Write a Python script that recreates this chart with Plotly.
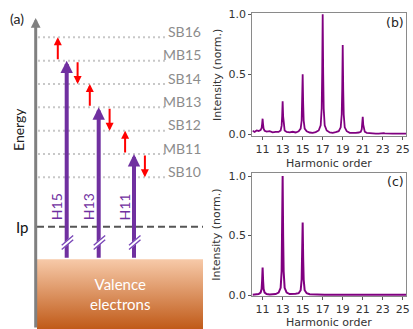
import plotly.graph_objects as go

# ---------------- data: spectra (b) and (c) ----------------
harmonic_order = [
    10.0, 10.2, 10.4,
    10.6, 10.8, 10.9, 10.95, 11.0, 11.05, 11.1, 11.2, 11.4, 11.7, 12.0, 12.3,
    12.6, 12.8, 12.9, 12.95, 13.0, 13.05, 13.1, 13.2, 13.4, 13.7, 14.0, 14.3,
    14.6, 14.8, 14.9, 14.95, 15.0, 15.05, 15.1, 15.2, 15.4, 15.7, 16.0, 16.3,
    16.6, 16.8, 16.9, 16.95, 17.0, 17.05, 17.1, 17.2, 17.4, 17.7, 18.0, 18.3,
    18.6, 18.8, 18.9, 18.95, 19.0, 19.05, 19.1, 19.2, 19.4, 19.7, 20.0, 20.3,
    20.6, 20.8, 20.9, 20.95, 21.0, 21.05, 21.1, 21.2, 21.4, 21.7, 22.0, 22.3,
    22.6, 22.8, 22.9, 22.95, 23.0, 23.05, 23.1, 23.2, 23.4, 23.7, 24.0, 24.3,
    24.7, 25.0, 25.35,
]
intensity_b = [
    0.030, 0.020, 0.032,
    0.028, 0.036, 0.052, 0.085, 0.130, 0.080, 0.046, 0.030, 0.022, 0.026, 0.016, 0.021,
    0.020, 0.032, 0.072, 0.150, 0.275, 0.150, 0.072, 0.032, 0.020, 0.016, 0.021, 0.015,
    0.025, 0.048, 0.115, 0.260, 0.500, 0.260, 0.115, 0.048, 0.025, 0.015, 0.012, 0.018,
    0.032, 0.075, 0.215, 0.510, 1.000, 0.510, 0.215, 0.075, 0.032, 0.015, 0.012, 0.018,
    0.026, 0.058, 0.165, 0.380, 0.745, 0.380, 0.165, 0.058, 0.026, 0.012, 0.010, 0.012,
    0.015, 0.021, 0.042, 0.080, 0.145, 0.080, 0.042, 0.021, 0.012, 0.008, 0.006, 0.006,
    0.006, 0.008, 0.010, 0.012, 0.014, 0.012, 0.010, 0.008, 0.006, 0.005, 0.005, 0.005,
    0.005, 0.005, 0.005,
]
intensity_c = [
    0.003, 0.003, 0.004,
    0.008, 0.020, 0.050, 0.120, 0.230, 0.120, 0.050, 0.020, 0.008, 0.005, 0.005, 0.008,
    0.020, 0.060, 0.200, 0.500, 1.000, 0.500, 0.200, 0.060, 0.020, 0.008, 0.006, 0.010,
    0.015, 0.040, 0.130, 0.310, 0.610, 0.310, 0.130, 0.040, 0.015, 0.006, 0.004, 0.003,
    0.002, 0.002, 0.002, 0.002, 0.002, 0.002, 0.002, 0.002, 0.002, 0.002, 0.002, 0.002,
    0.002, 0.002, 0.002, 0.002, 0.002, 0.002, 0.002, 0.002, 0.002, 0.002, 0.002, 0.002,
    0.002, 0.002, 0.002, 0.002, 0.002, 0.002, 0.002, 0.002, 0.002, 0.002, 0.002, 0.002,
    0.002, 0.002, 0.002, 0.002, 0.002, 0.002, 0.002, 0.002, 0.002, 0.002, 0.002, 0.002,
    0.002, 0.002, 0.002,
]
x_tick_values = [11, 13, 15, 17, 19, 21, 23, 25]
y_tick_values = [0.0, 0.5, 1.0]
y_tick_labels = ["0.0", "0.5", "1.0"]

# ---------------- data: energy-level schematic (a) ----------------
level_names = ["SB10", "MB11", "SB12", "MB13", "SB14", "MB15", "SB16"]
level_energy = [10, 11, 12, 13, 14, 15, 16]
harmonic_names = ["H15", "H13", "H11"]
harmonic_energy = [15, 13, 11]
ip_energy = 7.88
valence_top_energy = 6.49
valence_bottom_energy = 3.5
break_energy = 7.18

# ---------------- styles ----------------
PURPLE_LINE = "#800080"
PURPLE = "#7030A0"
RED = "#FF0000"
GRAY = "#8C8C8C"
PX = 1 / 23.33          # one pixel in energy units of panel (a)
harm_x = [66.7, 98.7, 134.0]
LEVEL_X0, LEVEL_X1 = 38, 166
BOX_X0, BOX_X1 = 37, 203
AXIS_X = 35.7
W, H = 413, 329

fig = go.Figure()

fig.add_trace(go.Scatter(x=harmonic_order, y=intensity_b, mode="lines",
                         line=dict(color=PURPLE_LINE, width=1.8),
                         xaxis="x", yaxis="y", showlegend=False, hoverinfo="skip"))
fig.add_trace(go.Scatter(x=harmonic_order, y=intensity_c, mode="lines",
                         line=dict(color=PURPLE_LINE, width=2),
                         xaxis="x2", yaxis="y2", showlegend=False, hoverinfo="skip"))

# valence box with vertical gradient
fig.add_trace(go.Scatter(
    x=[BOX_X0, BOX_X1, BOX_X1, BOX_X0, BOX_X0],
    y=[valence_bottom_energy, valence_bottom_energy, valence_top_energy,
       valence_top_energy, valence_bottom_energy],
    mode="lines", fill="toself", line=dict(width=0),
    fillgradient=dict(type="vertical",
                      colorscale=[[0, "#C05A18"], [1, "#F7CAA9"]]),
    xaxis="x3", yaxis="y3", showlegend=False, hoverinfo="skip"))

shapes = []
annotations = []

# dotted energy levels and labels
for name, e in zip(level_names, level_energy):
    shapes.append(dict(type="line", xref="x3", yref="y3", x0=LEVEL_X0, x1=LEVEL_X1,
                       y0=e, y1=e, line=dict(color="#C8C8C8", width=2, dash="2px,3px")))
    annotations.append(dict(xref="x3", yref="y3", x=203, y=e, text=name, showarrow=False,
                            xanchor="right", yanchor="middle", yshift=6,
                            font=dict(family="Lato", size=14, color=GRAY)))

# Ip dashed line
shapes.append(dict(type="line", xref="x3", yref="y3", x0=BOX_X0, x1=BOX_X1,
                   y0=ip_energy, y1=ip_energy,
                   line=dict(color="#555555", width=2, dash="7px,4px")))

# energy axis arrow
annotations.append(dict(xref="x3", yref="y3", axref="x3", ayref="y3",
                        x=AXIS_X, y=16.83, ax=AXIS_X, ay=valence_bottom_energy,
                        text="", showarrow=True, arrowhead=2, arrowsize=0.65,
                        arrowwidth=3, arrowcolor="#808080"))

# harmonic arrows, red sideband arrows, break marks
for hx, name, n in zip(harm_x, harmonic_names, harmonic_energy):
    annotations.append(dict(xref="x3", yref="y3", axref="x3", ayref="y3",
                            x=hx, y=n, ax=hx, ay=valence_top_energy,
                            text="", showarrow=True, arrowhead=2, arrowsize=0.62,
                            arrowwidth=4, arrowcolor=PURPLE))
    annotations.append(dict(xref="x3", yref="y3", x=hx - 9.5, y=8.73, text=name,
                            showarrow=False, textangle=-90,
                            xanchor="center", yanchor="middle",
                            font=dict(family="Lato", size=14, color=PURPLE)))
    annotations.append(dict(xref="x3", yref="y3", axref="x3", ayref="y3",
                            x=hx - 8.9, y=n + 1, ax=hx - 8.9, ay=n,
                            text="", showarrow=True, arrowhead=2, arrowsize=0.8,
                            arrowwidth=2, arrowcolor=RED))
    annotations.append(dict(xref="x3", yref="y3", axref="x3", ayref="y3",
                            x=hx + 10.9, y=n - 1, ax=hx + 10.9, ay=n,
                            text="", showarrow=True, arrowhead=2, arrowsize=0.8,
                            arrowwidth=2, arrowcolor=RED))
    # break "//" marks
    annotations.append(dict(xref="x3", yref="y3", axref="x3", ayref="y3",
                            x=hx + 6, y=break_energy + 5.5 * PX,
                            ax=hx - 6, ay=break_energy - 5.5 * PX,
                            text="", showarrow=True, arrowhead=0,
                            arrowwidth=4, arrowcolor="white"))
    for off in (-2.2, 2.2):
        annotations.append(dict(xref="x3", yref="y3", axref="x3", ayref="y3",
                                x=hx + 6.5, y=break_energy + (5.5 + off) * PX,
                                ax=hx - 6.5, ay=break_energy + (-5.5 + off) * PX,
                                text="", showarrow=True, arrowhead=0,
                                arrowwidth=1.4, arrowcolor="#7A48B8"))

# texts of panel (a)
annotations += [
    dict(xref="x3", yref="y3", x=16.7, y=16.81, text="(a)", showarrow=False,
         xanchor="center", yanchor="middle",
         font=dict(family="Lato", size=14, color="#222")),
    dict(xref="x3", yref="y3", x=19, y=12.03, text="Energy", showarrow=False,
         xanchor="center", yanchor="middle",
         textangle=-90, font=dict(family="Lato", size=14, color="#222")),
    dict(xref="x3", yref="y3", x=22, y=ip_energy, text="Ip", showarrow=False,
         xanchor="center", yanchor="middle",
         font=dict(family="Lato", size=15, color="#111")),
    dict(xref="x3", yref="y3", x=120, y=4.98, text="Valence<br>electrons",
         xanchor="center", yanchor="middle",
         showarrow=False, font=dict(family="Lato", size=15, color="white")),
]

# panel labels and axis titles of (b) and (c)
txt = dict(family="DejaVu Sans", size=11, color="#333")
x_mid = (252.3 + 406.3) / 2
centered = dict(xref="paper", yref="paper", xanchor="center", yanchor="middle",
                showarrow=False)
annotations += [
    dict(x=395 / W, y=1 - 22.7 / H, text="(b)",
         font=dict(family="DejaVu Sans", size=12.5, color="#222"), **centered),
    dict(x=395 / W, y=1 - 181.7 / H, text="(c)",
         font=dict(family="DejaVu Sans", size=12.5, color="#222"), **centered),
    dict(x=x_mid / W, y=1 - 163 / H, text="Harmonic order", font=txt, **centered),
    dict(x=x_mid / W, y=1 - 322.5 / H, text="Harmonic order", font=txt, **centered),
    dict(x=217 / W, y=1 - 75 / H, text="Intensity (norm.)", textangle=-90,
         font=txt, **centered),
    dict(x=217 / W, y=1 - 234.7 / H, text="Intensity (norm.)", textangle=-90,
         font=txt, **centered),
]

tick_font = dict(family="DejaVu Sans", size=11, color="#333")
common = dict(showline=True, mirror=True, linecolor="#8A8A8A", linewidth=1,
              ticks="outside", ticklen=3, tickcolor="#555", tickfont=tick_font,
              showgrid=False, zeroline=False, automargin=False)
xdom = [252.3 / W, 406.3 / W]

fig.update_layout(
    width=W, height=H,
    margin=dict(l=0, r=0, t=0, b=0, autoexpand=False),
    paper_bgcolor="white", plot_bgcolor="white",
    showlegend=False,
    xaxis=dict(domain=xdom, range=[9.97, 25.35], tickvals=x_tick_values, anchor="y",
               **common),
    yaxis=dict(domain=[1 - 136 / H, 1 - 13.3 / H], range=[-0.0142, 1.0083],
               tickvals=y_tick_values, ticktext=y_tick_labels, anchor="x", **common),
    xaxis2=dict(domain=xdom, range=[9.97, 25.35], tickvals=x_tick_values, anchor="y2",
                **common),
    yaxis2=dict(domain=[1 - 296 / H, 1 - 173.3 / H], range=[-0.0084, 1.023],
                tickvals=y_tick_values, ticktext=y_tick_labels, anchor="x2", **common),
    xaxis3=dict(domain=[0, 210 / W], range=[0, 210], visible=False, anchor="y3",
                automargin=False),
    yaxis3=dict(domain=[0, 1], range=[valence_bottom_energy, 17.6], visible=False,
                anchor="x3", automargin=False),
    shapes=shapes,
    annotations=annotations,
)

fig.write_html("out.html",
               config={"displayModeBar": False, "staticPlot": True},
               post_script="document.body.style.margin='0';"
                           "document.body.style.overflow='hidden';")
